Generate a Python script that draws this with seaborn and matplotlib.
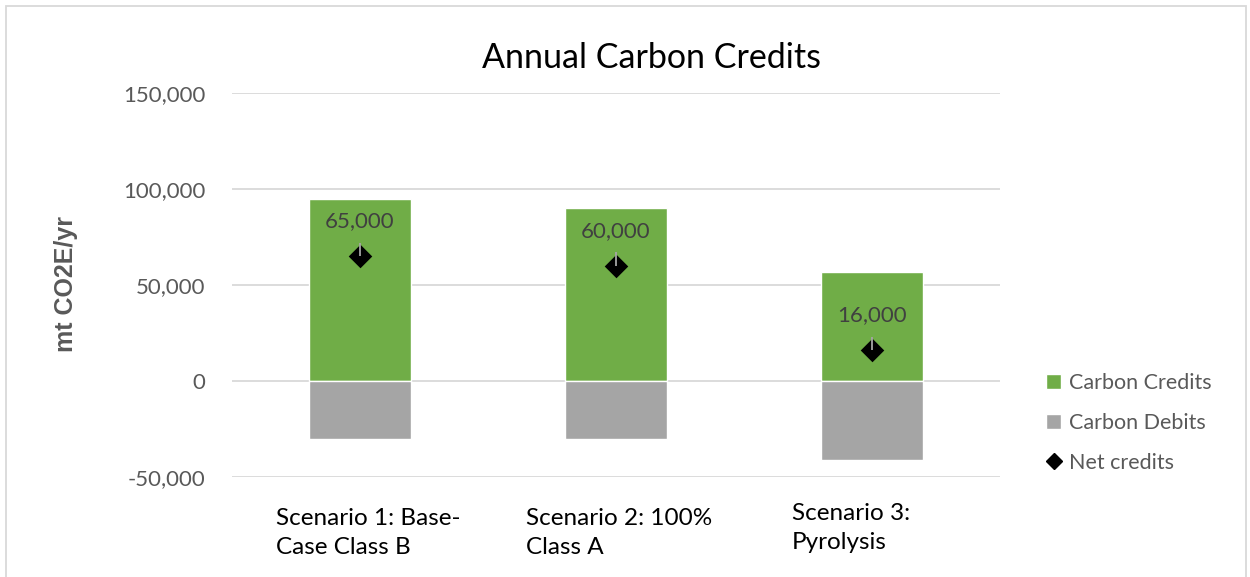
import pandas as pd
import matplotlib.pyplot as plt
import seaborn as sns
from matplotlib.patches import Patch, Rectangle
from matplotlib.lines import Line2D
from matplotlib.ticker import FuncFormatter
from matplotlib.transforms import ScaledTranslation

# Datos
escenarios = ["Scenario 1: Base-\nCase Class B", "Scenario 2: 100%\nClass A", "Scenario 3:\nPyrolysis"]
creditos = [95000, 90000, 57000]
debitos = [-30000, -30000, -41000]
netos = [65000, 60000, 16000]
etiquetas = ["65,000", "60,000", "16,000"]

verde = "#70AD47"
gris = "#A5A5A5"
texto = "#595959"

sns.set_theme(style="white")
plt.rcParams["font.family"] = ["Lato", "DejaVu Sans"]

df = pd.DataFrame({
    "Scenario": escenarios * 2,
    "Valor": creditos + debitos,
    "Tipo": ["Carbon Credits"] * 3 + ["Carbon Debits"] * 3,
})
df_net = pd.DataFrame({"Scenario": escenarios, "Net": netos})

fig = plt.figure(figsize=(12.5, 5.77), dpi=100)
ax = fig.add_axes([232 / 1250, 1 - 477 / 577, 768 / 1250, 384 / 577])

sns.barplot(data=df, x="Scenario", y="Valor", hue="Tipo", dodge=False,
            palette=[verde, gris], width=0.4, ax=ax, legend=False,
            saturation=1)

sns.stripplot(data=df_net, x="Scenario", y="Net", jitter=False, marker="D",
              color="black", size=12, ax=ax, zorder=5)

# lineas guia grises de las etiquetas
ax.vlines(range(len(netos)), netos, [n + 7000 for n in netos],
          color="#A6A6A6", lw=1.3, zorder=6)

for i, (n, et) in enumerate(zip(netos, etiquetas)):
    ax.annotate(et, (i, n), xytext=(0, 18), textcoords="offset points",
                ha="center", va="bottom", fontsize=16, color="#404040")

ax.set_ylim(-50000, 150000)
ax.set_yticks([-50000, 0, 50000, 100000, 150000])
ax.yaxis.set_major_formatter(FuncFormatter(lambda v, p: f"{int(v):,}"))
ax.set_xlim(-0.5, 2.5)
ax.grid(axis="y", color="#D9D9D9", lw=1.3)
ax.set_axisbelow(True)
for s in ax.spines.values():
    s.set_visible(False)

ax.tick_params(axis="y", labelsize=16, labelcolor=texto, pad=19, length=0)
ax.tick_params(axis="x", labelsize=17.5, labelcolor="black", pad=22, length=0)
# desplazamiento de cada etiqueta como en Excel (pixeles)
despl = [(8, 0), (3, 0), (-21, 5)]
for lab, (dx, dy) in zip(ax.get_xticklabels(), despl):
    lab.set_multialignment("left")
    lab.set_linespacing(1.5)
    lab.set_transform(lab.get_transform() + ScaledTranslation(dx / 100, dy / 100, fig.dpi_scale_trans))

ax.set_xlabel("")
ax.set_ylabel("")
fig.text(66 / 1250, 1 - 284 / 577, "mt CO2E/yr", rotation=90, ha="center", va="center",
         fontsize=18, fontweight="bold", color=texto, family="Liberation Sans")

fig.suptitle("Annual Carbon Credits", x=651 / 1250, y=1 - 58 / 577, va="center",
             fontsize=24.5, color="black")

handles = [
    Patch(facecolor=verde, label="Carbon Credits"),
    Patch(facecolor=gris, label="Carbon Debits"),
    Line2D([], [], marker="D", color="black", ls="", markersize=8, label="Net credits"),
]
fig.legend(handles=handles, loc="center left", bbox_to_anchor=(1027 / 1250, 1 - 423 / 577),
           frameon=False, fontsize=15.5, labelcolor=texto, handlelength=0.7,
           handletextpad=0.35, labelspacing=0.92)

fig.patches.append(Rectangle((6 / 1250, -0.02), 1240 / 1250, 1 - 6 / 577 + 0.02,
                             transform=fig.transFigure, fill=False,
                             edgecolor="#D9D9D9", lw=1.3))

plt.savefig("out.png", dpi=100)
